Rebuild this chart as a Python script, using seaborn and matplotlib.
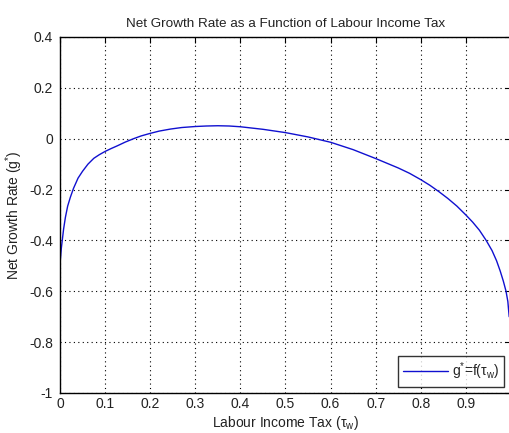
import matplotlib
matplotlib.use("Agg")
import matplotlib.pyplot as plt
import seaborn as sns
import pandas as pd

# Labour income tax rate and the resulting net growth rate g*
tau_w = [0.001, 0.003, 0.005, 0.008, 0.012, 0.017, 0.023, 0.030, 0.040, 0.050,
         0.062, 0.075, 0.087, 0.100, 0.113, 0.127, 0.145, 0.163, 0.180, 0.200,
         0.220, 0.245, 0.270, 0.300, 0.325, 0.350, 0.375, 0.400, 0.450, 0.500,
         0.550, 0.600, 0.650, 0.700, 0.750, 0.775, 0.800, 0.820, 0.840, 0.860,
         0.880, 0.900, 0.915, 0.930, 0.945, 0.958, 0.968, 0.976, 0.983, 0.989,
         0.993, 0.996]
g_star = [-0.472, -0.430, -0.400, -0.355, -0.309, -0.265, -0.230, -0.195, -0.155, -0.128,
          -0.100, -0.077, -0.063, -0.050, -0.039, -0.028, -0.013, 0.000, 0.011, 0.021,
          0.030, 0.038, 0.044, 0.048, 0.050, 0.051, 0.050, 0.047, 0.037, 0.024,
          0.007, -0.014, -0.043, -0.078, -0.115, -0.136, -0.161, -0.183, -0.208, -0.235,
          -0.265, -0.300, -0.328, -0.360, -0.400, -0.440, -0.480, -0.520, -0.560, -0.600,
          -0.640, -0.700]

x_ticks = [0, 0.1, 0.2, 0.3, 0.4, 0.5, 0.6, 0.7, 0.8, 0.9, 1.0]
x_tick_labels = ["0", "0.1", "0.2", "0.3", "0.4", "0.5", "0.6", "0.7", "0.8", "0.9", ""]
y_ticks = [-1, -0.8, -0.6, -0.4, -0.2, 0, 0.2, 0.4]
y_tick_labels = ["-1", "-0.8", "-0.6", "-0.4", "-0.2", "0", "0.2", "0.4"]

df = pd.DataFrame({"tau": tau_w, "g": g_star})

sns.set_style("white")
plt.rcParams["font.family"] = ["Liberation Sans", "DejaVu Sans"]
plt.rcParams["mathtext.fontset"] = "custom"
plt.rcParams["mathtext.rm"] = "Liberation Sans"
plt.rcParams["mathtext.it"] = "Liberation Sans"

fig = plt.figure(figsize=(5.10, 4.33), dpi=100)
ax = fig.add_axes([60 / 510, 1 - 393 / 433, 451 / 510, 356 / 433])

sns.lineplot(data=df, x="tau", y="g", ax=ax, color="#1010d0", linewidth=1.0,
             sort=False, estimator=None, label=r"g$^{*}$=f(τ$_{\mathrm{w}}$)")

ax.set_xlim(0, 1)
ax.set_ylim(-1, 0.4)
ax.set_xticks(x_ticks)
ax.set_xticklabels(x_tick_labels)
ax.set_yticks(y_ticks)
ax.set_yticklabels(y_tick_labels)

ax.grid(True, linestyle=(0, (1, 3)), color="black", linewidth=0.8)
ax.tick_params(direction="in", length=4, width=0.8, colors="black",
               labelsize=10, top=True, right=True, labelcolor="#222222")
ax.tick_params(axis="y", pad=5)
ax.tick_params(axis="x", pad=3)
for s in ax.spines.values():
    s.set_color("black")
    s.set_linewidth(1.0)

ax.set_title("Net Growth Rate as a Function of Labour Income Tax",
             fontsize=9.7, color="#222222", pad=7)
ax.set_xlabel(r"Labour Income Tax (τ$_{\mathrm{w}}$)", fontsize=10, color="#222222",
              labelpad=2)
ax.set_ylabel(r"Net Growth Rate (g$^{*}$)", fontsize=10, color="#222222", labelpad=3)

leg = ax.legend(loc="lower right", bbox_to_anchor=(0.9845, 0.017), fontsize=10,
                frameon=True, fancybox=False, borderpad=0.35, handlelength=3.2,
                handletextpad=0.3, borderaxespad=0)
leg.get_frame().set_edgecolor("black")
leg.get_frame().set_linewidth(1.0)

fig.savefig("out.png", dpi=100, facecolor="white")
